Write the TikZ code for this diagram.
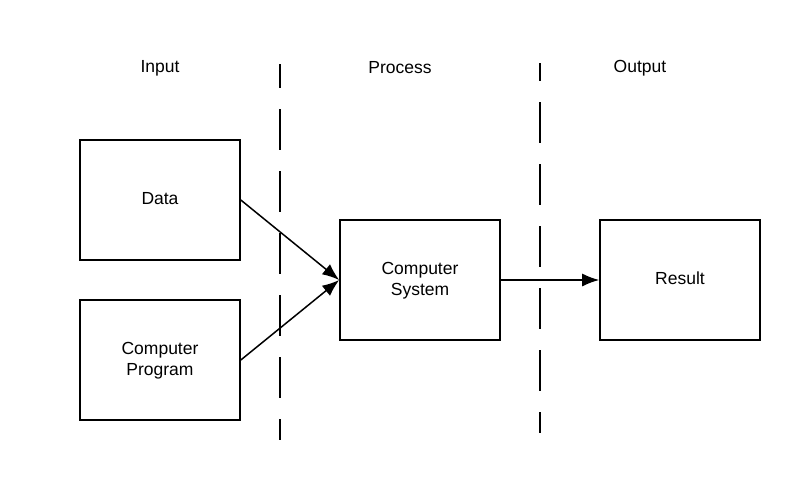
\documentclass[tikz,border=0pt]{standalone}
\usepackage{fontspec}
\setmainfont{Liberation Sans}
\usepackage{tikz}
\usetikzlibrary{calc, arrows.meta}
\tikzstyle{blk}=[draw, line width=1.6pt, minimum width=160pt, minimum height=120pt, align=center, text depth=3pt, font=\fontsize{17.5}{21}\selectfont]
\tikzstyle{lbl}=[font=\fontsize{17.5}{21}\selectfont]
\tikzstyle{sep}=[line width=1.6pt, dash pattern=on 41pt off 21pt]

\begin{document}
\begin{tikzpicture}[x=1pt,y=1pt,node distance=260pt,>={Latex[length=17pt,width=13pt]}]
      \useasboundingbox (0,0) rectangle (800,-480);
      \node [blk] (data) at (160,-200) {Data};
      \node [blk] (prog) [below of=data, node distance=160pt] {Computer\\Program};
      \node [blk] (sys) at (420,-280) {Computer\\System};
      \node [blk] (res) [right of=sys] {Result};
      \node [lbl] (in) at (160,-68) {Input};
      \node [lbl] (proc) at (400,-68) {Process};
      \node [lbl] (out) at (640,-68) {Output};
      \coordinate (s1top) at (280,-64);
      \coordinate (s1bot) at (280,-440);
      \coordinate (s2top) at (540,-63);
      \coordinate (s2bot) at (540,-433);
      \draw [sep, dash phase=17pt] (s1top) -- (s1bot);
      \draw [sep, dash phase=23pt] (s2top) -- (s2bot);
      \draw [->, line width=1.5pt] (data.east) -- (sys.west);
      \draw [->, line width=1.5pt] (prog.east) -- (sys.west);
      \draw [->, line width=1.5pt] (sys.east) -- (res.west);
  \end{tikzpicture}
\end{document}
